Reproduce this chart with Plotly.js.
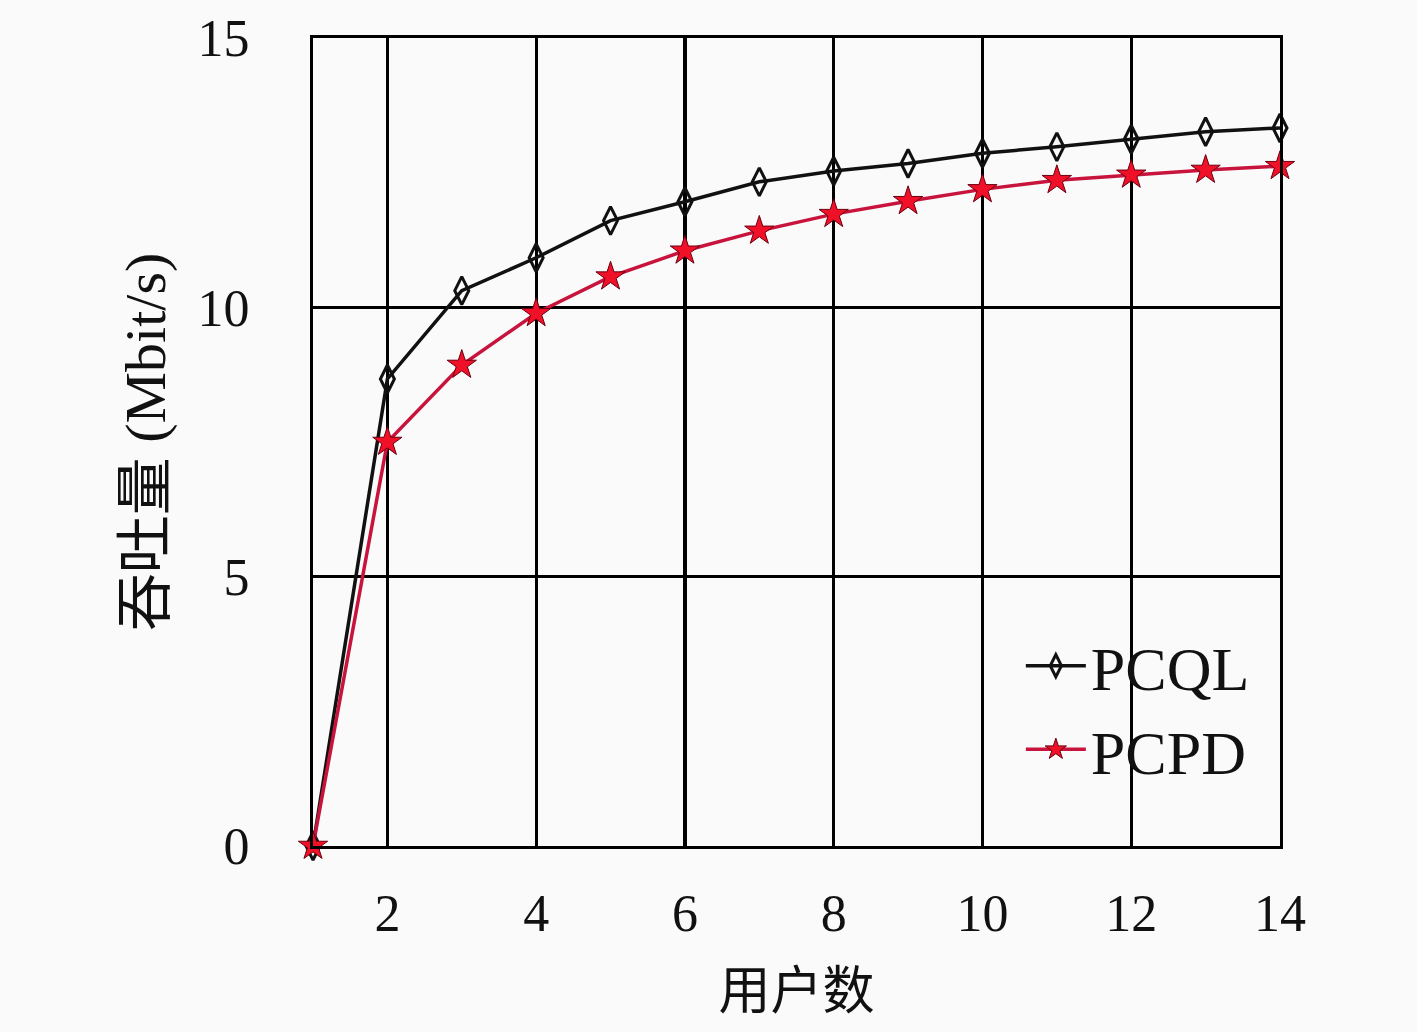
<!DOCTYPE html>
<html>
<head>
<meta charset="utf-8">
<script src="https://cdn.plot.ly/plotly-3.0.1.min.js"></script>
<style>html,body{margin:0;padding:0;background:#fafafa;}#chart{width:1417px;height:1032px;}</style>
</head>
<body>
<div id="chart"></div>
<script>
const users = [1,2,3,4,5,6,7,8,9,10,11,12,13,14];
const pcql = [0, 8.67, 10.31, 10.92, 11.61, 11.96, 12.33, 12.53, 12.67, 12.86, 12.98, 13.12, 13.26, 13.33];
const pcpd = [0, 7.50, 8.93, 9.89, 10.57, 11.05, 11.42, 11.73, 11.97, 12.19, 12.36, 12.46, 12.55, 12.62];
const xTicks = [2,4,6,8,10,12,14];
const yTicks = [0,5,10,15];
const seriesNames = ['PCQL','PCPD'];
const xTitle = '用户数';
const yTitle = '吞吐量 (Mbit/s)';

const FONT = 'Liberation Serif, Noto Sans CJK SC, serif';

const traces = [
  {
    x: users, y: pcql, name: seriesNames[0], type: 'scatter', mode: 'lines+markers',
    line: {color: '#111111', width: 3.5},
    marker: {symbol: 'diamond-tall-open', size: 20, color: '#111111', line: {color: '#111111', width: 3}},
    cliponaxis: false
  },
  {
    x: users, y: pcpd, name: seriesNames[1], type: 'scatter', mode: 'lines+markers',
    line: {color: '#c8143c', width: 3.5},
    marker: {symbol: 'star', size: 22, color: '#f01028', line: {color: '#6a0010', width: 1}},
    cliponaxis: false
  }
];

const layout = {
  width: 1417, height: 1032,
  paper_bgcolor: '#fafafa', plot_bgcolor: '#fafafa',
  margin: {l: 313, r: 137, t: 38, b: 186},
  font: {family: FONT, size: 52, color: '#111'},
  showlegend: true,
  legend: {
    x: 0.732, y: 0.281, xanchor: 'left', yanchor: 'top',
    bgcolor: 'rgba(0,0,0,0)', borderwidth: 0,
    font: {family: FONT, size: 62, color: '#111'},
    tracegroupgap: 0, itemwidth: 60
  },
  xaxis: {
    range: [1, 14], tickvals: xTicks, ticktext: xTicks.map(String),
    showgrid: true, gridcolor: '#000', gridwidth: 3.2,
    showline: true, linecolor: '#000', linewidth: 3, mirror: true,
    zeroline: false, ticks: '', ticklabelstandoff: 20,
    tickfont: {family: FONT, size: 52, color: '#111'},
    title: {text: xTitle, font: {family: 'Noto Sans CJK SC, serif', size: 52, color: '#111'}, standoff: 32}
  },
  yaxis: {
    range: [0, 15], tickvals: yTicks, ticktext: yTicks.map(String),
    showgrid: true, gridcolor: '#000', gridwidth: 3.2,
    showline: true, linecolor: '#000', linewidth: 3, mirror: true,
    zeroline: false, ticks: '', ticklabelstandoff: 50,
    tickfont: {family: FONT, size: 52, color: '#111'},
    title: {text: yTitle, font: {family: FONT, size: 58, color: '#111'}, standoff: 14}
  }
};

Plotly.newPlot('chart', traces, layout, {displayModeBar: false, staticPlot: true});
</script>
</body>
</html>
